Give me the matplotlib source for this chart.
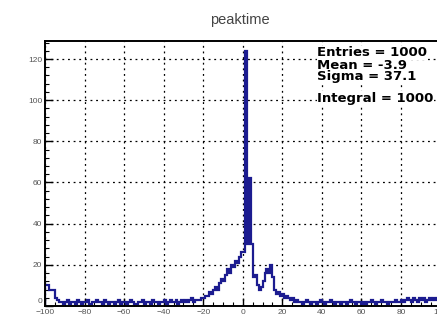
import numpy as np
import matplotlib
matplotlib.use("Agg")
import matplotlib.pyplot as plt
from matplotlib.ticker import MultipleLocator
from matplotlib.transforms import ScaledTranslation

# histogram "peaktime": 200 bins of width 1 from -100 to 100
edges = np.arange(-100, 101, 1)

left_edge = [10, 10, 8, 8, 8, 4, 3, 2]                       # -100 .. -93
left_flat = [2, 1, 2, 3, 1, 2, 2, 1, 3, 2, 1, 2, 2, 3, 1, 1, 2, 2, 3, 2,
             2, 1, 3, 2, 1, 2, 2, 1, 2, 3, 1, 2, 2, 1, 2, 3, 2, 1, 1, 2,
             2, 3, 1, 2, 2, 1, 3, 2, 2, 1, 2, 2, 3, 1, 2, 3, 2, 2, 3, 1,
             2, 3, 2, 3, 2, 3, 4, 2, 3, 3, 3, 4]               # -92 .. -21
left_rise = [4, 5, 5, 7, 6, 8, 9, 8, 11, 13, 12, 15, 18, 16, 20, 19,
             22, 21, 24, 26]                                   # -20 .. -1
peak = [26, 124, 30, 62, 30]                                   # 0 .. 4
right_bump = [14, 15, 10, 8, 9, 12, 16, 18, 16, 20, 14, 8, 6, 7, 5, 6,
              4, 5, 4, 3, 4]                                   # 5 .. 25
right_flat = [2, 3, 2, 2, 1, 2, 3, 2, 1, 2, 2, 1, 2, 3, 2, 1, 2, 2, 3, 2,
              1, 2, 2, 1, 2, 2, 1, 2, 3, 2, 2, 1, 2, 2, 1, 2, 1, 2, 2, 3,
              2, 1, 2, 2, 3, 2, 2, 1, 2, 2, 2, 3, 2, 2, 3, 2, 3, 4, 3, 2,
              4, 3, 2, 4, 3, 4, 2, 3, 4, 3, 4, 3, 4, 3]         # 26 .. 99
counts = np.array(left_edge + left_flat + left_rise + peak + right_bump + right_flat)

stats = ["Entries = 1000", "Mean = -3.9", "Sigma = 37.1", "Integral = 1000"]

plt.rcParams["font.family"] = ["Liberation Sans", "DejaVu Sans"]

fig = plt.figure(figsize=(4.37, 3.29), dpi=100)
ax = fig.add_axes([0.103, 0.070, 0.905, 0.805])

ax.stairs(counts, edges, color="#1c1c90", lw=1.6, baseline=0)

ax.set_xlim(-100, 100)
ax.set_ylim(0, 128.7)
ax.xaxis.set_major_locator(MultipleLocator(20))
ax.xaxis.set_minor_locator(MultipleLocator(5))
ax.yaxis.set_major_locator(MultipleLocator(20))
ax.yaxis.set_minor_locator(MultipleLocator(4))
ax.tick_params(which="both", direction="in", top=False, right=False,
               labelsize=6, labelcolor="#555555", pad=2)
ax.tick_params(which="major", length=6, width=1)
ax.tick_params(which="minor", length=3, width=0.8)
ax.grid(True, which="major", color="black", ls=(0, (1.5, 3)), lw=0.9)
ax.set_axisbelow(True)
for s in ax.spines.values():
    s.set_linewidth(1.4)

# nudge the y "0" label up so it sits above "-100", like ROOT does
fig.canvas.draw()
for lab in ax.get_yticklabels():
    if lab.get_text() in ("0", "−0"):
        lab.set_transform(lab.get_transform() + ScaledTranslation(0, 4 / 72, fig.dpi_scale_trans))

fig.text(0.55, 0.94, "peaktime", ha="center", va="center",
         fontsize=10.5, color="#444444")

ys = [0.839, 0.802, 0.766, 0.702]
for t, y in zip(stats, ys):
    fig.text(0.726, y, t, ha="left", va="center", fontsize=9.5,
             fontweight="bold", color="black", family="DejaVu Sans",
             bbox=dict(facecolor="white", edgecolor="none", pad=0.2))

fig.savefig("out.png", dpi=100)
